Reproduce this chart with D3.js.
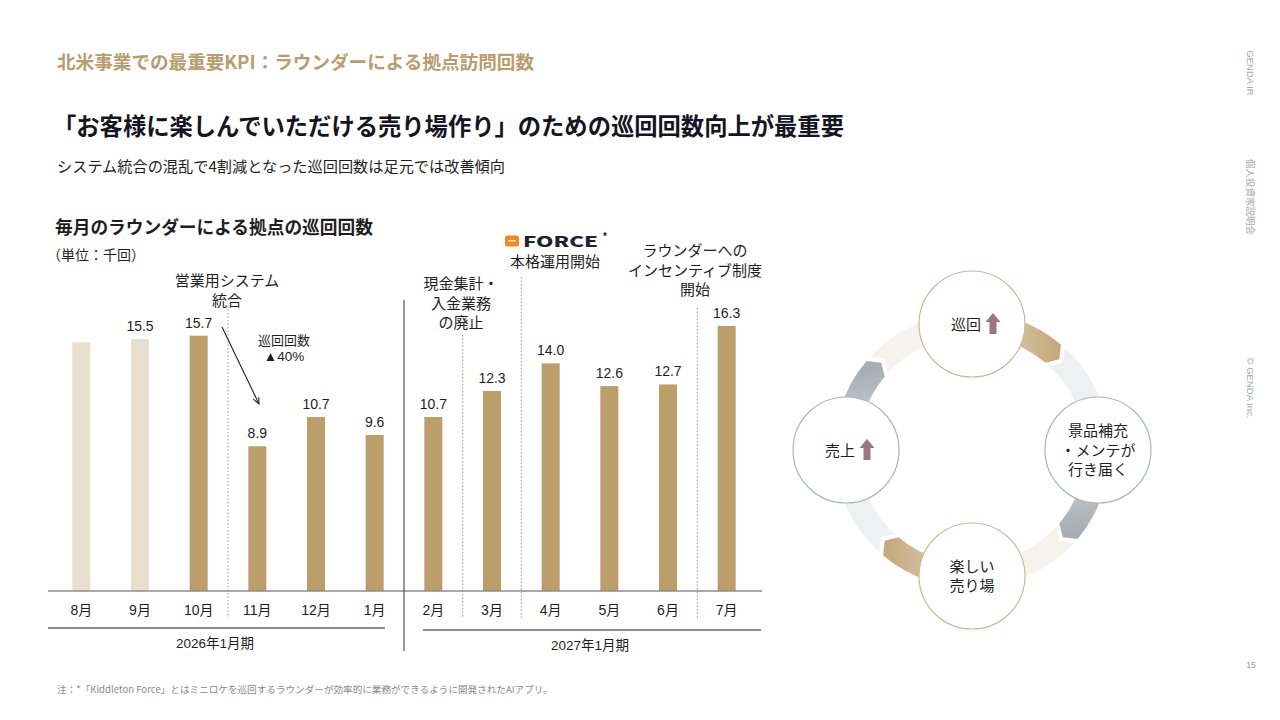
<!DOCTYPE html>
<html><head><meta charset="utf-8">
<script src="https://cdn.jsdelivr.net/npm/d3@7/dist/d3.min.js"></script>
<style>
body{margin:0;background:#fff;}
svg{display:block;}
text{font-family:"Noto Sans CJK JP","Noto Sans",sans-serif;}
.num{font-family:"Liberation Sans","Noto Sans CJK JP",sans-serif;}
</style>
</head><body>
<svg id="c" width="1280" height="720"></svg>
<script>
// ---- data ----
const months = ["8月","9月","10月","11月","12月","1月","2月","3月","4月","5月","6月","7月"];
const visits = [15.3,15.5,15.7,8.9,10.7,9.6,10.7,12.3,14.0,12.6,12.7,16.3];
const valueLabels = [null,"15.5","15.7","8.9","10.7","9.6","10.7","12.3","14.0","12.6","12.7","16.3"];
const barTone = ["light","light","main","main","main","main","main","main","main","main","main","main"];
const fiscalGroups = [
  {label:"2026年1月期", first:"8月", last:"1月"},
  {label:"2027年1月期", first:"2月", last:"7月"}
];
const eventLines = [
  {before:"11月", lines:["営業用システム","統合"]},
  {before:"3月", lines:["現金集計・","入金業務","の廃止"]},
  {before:"4月", lines:["本格運用開始"]},
  {before:"7月", lines:["ラウンダーへの","インセンティブ制度","開始"]}
];
const cycleNodes = [
  {lines:["巡回"], up:true, stroke:"#cdb796"},
  {lines:["景品補充","・メンテが","行き届く"], up:false, stroke:"#aeb4b9"},
  {lines:["楽しい","売り場"], up:false, stroke:"#cdb796"},
  {lines:["売上"], up:true, stroke:"#aeb4b9"}
];
const cycleArrowTones = ["gray","gold","gray","gold"]; // heads at 45°,135°,225°,315°

// ---- setup ----
const svg = d3.select("#c");
const GOLD = "#bc9d6c", LIGHT = "#e9dfcf", INK = "#1e1e1e";

// header texts
svg.append("text").attr("x",57).attr("y",69).attr("font-size",18.6).attr("font-weight",700)
  .attr("fill","#b99d6e").text("北米事業での最重要KPI：ラウンダーによる拠点訪問回数");
svg.append("text").attr("x",53).attr("y",135).attr("font-size",23.3).attr("font-weight",700)
  .attr("fill","#141422").text("「お客様に楽しんでいただける売り場作り」のための巡回回数向上が最重要");
svg.append("text").attr("x",57).attr("y",172).attr("font-size",15.2)
  .attr("fill",INK).text("システム統合の混乱で4割減となった巡回回数は足元では改善傾向");
svg.append("text").attr("x",55).attr("y",234).attr("font-size",17.7).attr("font-weight",700)
  .attr("fill",INK).text("毎月のラウンダーによる拠点の巡回回数");
svg.append("text").attr("x",47).attr("y",260).attr("font-size",14)
  .attr("fill",INK).text("（単位：千回）");

// right side vertical
[["GENDA IR",73],["個人投資家説明会",197],["© GENDA Inc.",388]].forEach(([t,cy])=>{
  svg.append("text").attr("transform",`translate(1247,${cy}) rotate(90)`)
    .attr("text-anchor","middle").attr("font-size",9.5).attr("fill","#a8a8a8")
    .attr("class","num").text(t);
});
svg.append("text").attr("x",1251).attr("y",668).attr("text-anchor","middle")
  .attr("font-size",8.5).attr("fill","#999").attr("class","num").text("15");

// footnote
svg.append("text").attr("x",57).attr("y",693).attr("font-size",9.6).attr("fill","#8a8a8a")
  .text("注：*「Kiddleton Force」とはミニロケを巡回するラウンダーが効率的に業務ができるように開発されたAIアプリ。");

// ---- bar chart ----
const x = d3.scaleBand().domain(months).range([52,756]).padding(0);
const y = d3.scaleLinear().domain([0,18]).range([591, 591-18*16.26]);
const BW = 18;
const cx = m => x(m) + x.bandwidth()/2;

const g = svg.append("g");
g.selectAll("rect.bar").data(months).join("rect").attr("class","bar")
  .attr("x",m=>cx(m)-BW/2).attr("width",BW)
  .attr("y",(m,i)=>y(visits[i])).attr("height",(m,i)=>y(0)-y(visits[i]))
  .attr("fill",(m,i)=>barTone[i]==="light"?LIGHT:GOLD);

g.selectAll("text.val").data(months).join("text").attr("class","val num")
  .attr("x",m=>cx(m)).attr("y",(m,i)=>y(visits[i])-8)
  .attr("text-anchor","middle").attr("font-size",14).attr("fill",INK)
  .text((m,i)=>valueLabels[i]||"");

// baseline axis
const xAxis = d3.axisBottom(x).tickSize(0).tickPadding(14);
const ax = g.append("g").attr("transform",`translate(0,${y(0)})`).call(xAxis);
ax.select(".domain").attr("d",`M48,0H762`).attr("stroke","#8c8c8c").attr("stroke-width",1.5);
ax.selectAll(".tick text").attr("class","num").attr("font-size",14).attr("fill",INK)
  .attr("font-family","Liberation Sans, Noto Sans CJK JP, sans-serif");

// fiscal groups
fiscalGroups.forEach((fg,i)=>{
  const x0 = i===0 ? 48 : x(fg.first)+19;
  const x1 = i===0 ? x(fg.last)+x.bandwidth()-19 : 761;
  const ly = i===0 ? 628 : 630;
  g.append("line").attr("x1",x0).attr("x2",x1).attr("y1",ly).attr("y2",ly)
    .attr("stroke","#666").attr("stroke-width",1.5);
  g.append("text").attr("x",i===0?215:590).attr("y",ly+20).attr("text-anchor","middle")
    .attr("font-size",13.5).attr("fill",INK).attr("class","num").text(fg.label);
});
// solid divider
g.append("line").attr("x1",x("2月")).attr("x2",x("2月")).attr("y1",300).attr("y2",651)
  .attr("stroke","#555").attr("stroke-width",1.2);

// event dotted lines + labels
const evLayout = {"11月":{top:306,tx:227,ty:286}, "3月":{top:335,tx:461,ty:289},
                  "4月":{top:277,tx:555,ty:267}, "7月":{top:308,tx:695,ty:256}};
eventLines.forEach(ev=>{
  const lx = x(ev.before);
  const L = evLayout[ev.before];
  g.append("line").attr("x1",lx).attr("x2",lx).attr("y1",L.top).attr("y2",618)
    .attr("stroke","#9a9a9a").attr("stroke-width",1).attr("stroke-dasharray","1.5,2");
  ev.lines.forEach((t,k)=>{
    g.append("text").attr("x",L.tx).attr("y",L.ty+k*19.5).attr("text-anchor","middle")
      .attr("font-size",15).attr("fill",INK).text(t);
  });
});

// FORCE logo
g.append("rect").attr("x",505).attr("y",235.5).attr("width",14).attr("height",11).attr("rx",2.5)
  .attr("fill","#f08a24");
g.append("rect").attr("x",508).attr("y",240).attr("width",8).attr("height",1.5).attr("fill","#fde2c4");
g.append("text").attr("x",523).attr("y",246.5).attr("font-size",14).attr("font-weight",900)
  .attr("font-family","DejaVu Sans, sans-serif").attr("fill","#1b2230")
  .attr("textLength",75).attr("lengthAdjust","spacingAndGlyphs").text("FORCE");
g.append("text").attr("x",603).attr("y",240).attr("font-size",10).attr("font-weight",700)
  .attr("class","num").attr("fill","#1b2230").text("*");

// drop annotation
const defs = svg.append("defs");
defs.append("marker").attr("id","ah").attr("viewBox","0 0 10 10").attr("refX",9).attr("refY",5)
  .attr("markerWidth",7).attr("markerHeight",7).attr("orient","auto")
  .append("path").attr("d","M0,1 L9,5 L0,9").attr("fill","none").attr("stroke",INK).attr("stroke-width",1.3);
g.append("line").attr("x1",222).attr("y1",327).attr("x2",259).attr("y2",404)
  .attr("stroke",INK).attr("stroke-width",1.1).attr("marker-end","url(#ah)");
g.append("text").attr("x",284).attr("y",345).attr("text-anchor","middle").attr("font-size",13)
  .attr("fill",INK).text("巡回回数");
g.append("text").attr("x",284).attr("y",361).attr("text-anchor","middle").attr("font-size",13.5)
  .attr("fill",INK).attr("class","num").text("▲40%");

// ---- cycle diagram ----
const C = {x:972, y:450}, R = 126, rIn = 114, rOut = 138, rMid = 126, NR = 53;
const deg = Math.PI/180;
const pt = (r,a)=>[C.x + r*Math.cos(a), C.y + r*Math.sin(a)];
const tones = {gray:["#eef0f1","#a6aeb4"], gold:["#f7f3ec","#c6aa7f"]};
const tip = 3.8*deg, gap = 2.2*deg;
cycleArrowTones.forEach((tone,i)=>{
  const headA = (45 + 90*i)*deg;       // arrow head direction (clockwise)
  const a1 = headA - gap/2 - tip, a0 = headA - 90*deg + gap/2 - tip;
  const p = d3.path();
  let q = pt(rOut,a0); p.moveTo(q[0],q[1]);
  p.arc(C.x,C.y,rOut,a0,a1,false);
  q = pt(rMid,a1+tip); p.lineTo(q[0],q[1]);
  q = pt(rIn,a1); p.lineTo(q[0],q[1]);
  p.arc(C.x,C.y,rIn,a1,a0,true);
  q = pt(rMid,a0+tip); p.lineTo(q[0],q[1]);
  p.closePath();
  const t0 = pt(rMid,a0), t1 = pt(rMid,a1);
  const gid = "ag"+i;
  const lg = defs.append("linearGradient").attr("id",gid).attr("gradientUnits","userSpaceOnUse")
    .attr("x1",t0[0]).attr("y1",t0[1]).attr("x2",t1[0]).attr("y2",t1[1]);
  lg.append("stop").attr("offset",0).attr("stop-color",tones[tone][0]);
  lg.append("stop").attr("offset",0.35).attr("stop-color",tones[tone][0]);
  lg.append("stop").attr("offset",1).attr("stop-color",tones[tone][1]);
  svg.append("path").attr("d",p.toString()).attr("fill",`url(#${gid})`);
});

const UP = "#9b7584";
cycleNodes.forEach((n,i)=>{
  const a = (-90 + 90*i)*deg;
  const [nx,ny] = pt(R,a);
  svg.append("circle").attr("cx",nx).attr("cy",ny).attr("r",NR).attr("fill","#fff")
    .attr("stroke",n.stroke).attr("stroke-width",1.2);
  if(n.up){
    svg.append("text").attr("x",nx+9).attr("y",ny+6).attr("text-anchor","end")
      .attr("font-size",15).attr("fill",INK).text(n.lines[0]);
    const ux = nx+21, uy = ny-11;
    svg.append("path").attr("d",`M${ux},${uy} L${ux+7.5},${uy+9} L${ux+3.5},${uy+9} L${ux+3.5},${uy+21} L${ux-3.5},${uy+21} L${ux-3.5},${uy+9} L${ux-7.5},${uy+9} Z`)
      .attr("fill",UP);
  } else {
    const n0 = n.lines.length;
    n.lines.forEach((t,k)=>{
      svg.append("text").attr("x",nx).attr("y",ny + 5.5 + (k-(n0-1)/2)*19.5)
        .attr("text-anchor","middle").attr("font-size",15).attr("fill",INK).text(t);
    });
  }
});
</script>
</body></html>
